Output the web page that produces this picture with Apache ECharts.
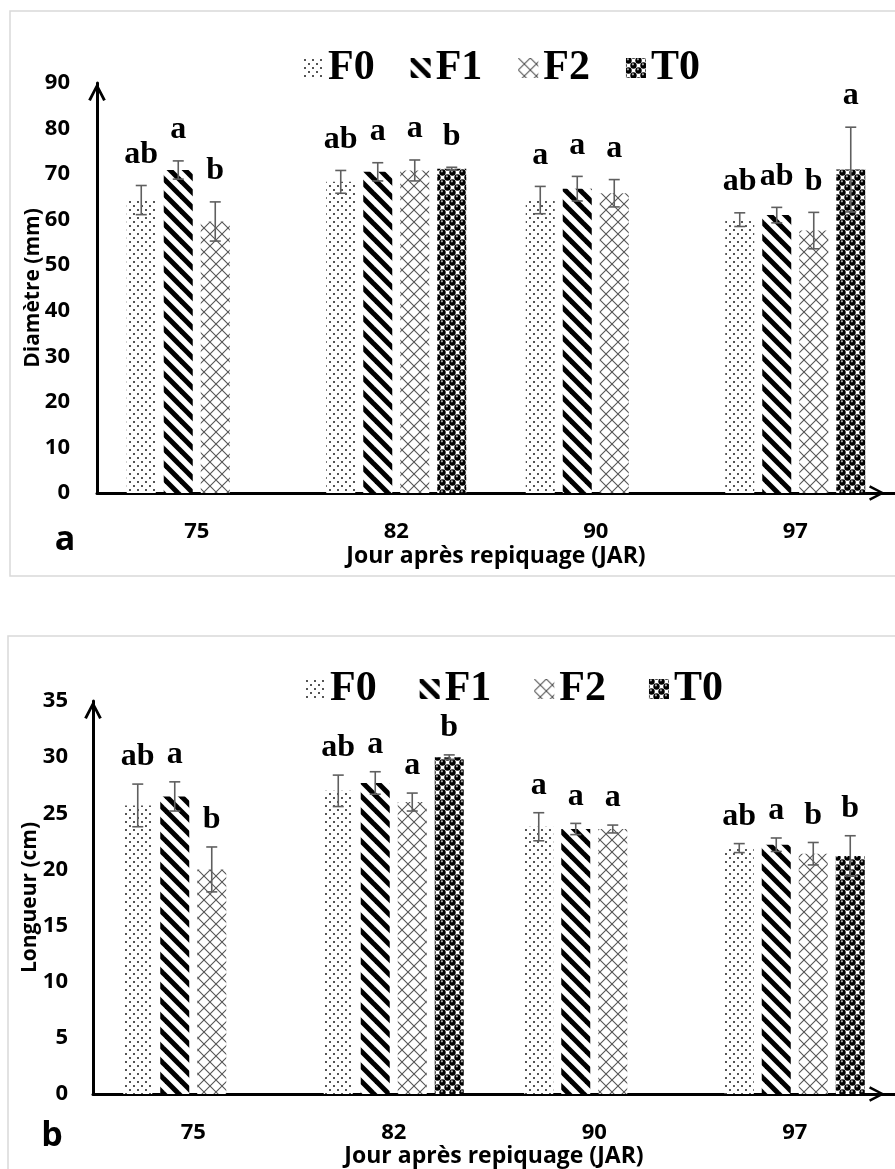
<!DOCTYPE html>
<html>
<head>
<meta charset="utf-8">
<script src="https://cdn.jsdelivr.net/npm/echarts@6/dist/echarts.min.js"></script>
<style>
  html, body { margin: 0; padding: 0; background: #ffffff; }
  #chart { width: 895px; height: 1169px; }
</style>
</head>
<body>
<div id="chart"></div>
<script>
// ---- Data -------------------------------------------------------------
const days = ['75', '82', '90', '97'];
const treatments = ['F0', 'F1', 'F2', 'T0'];

// Panel a: Diamètre (mm)
const diamTicks = [0, 10, 20, 30, 40, 50, 60, 70, 80, 90];
const diamF0 = [64.3, 68.3, 64.3, 60.0];
const diamF1 = [70.9, 70.5, 66.8, 61.0];
const diamF2 = [59.6, 70.8, 65.8, 57.6];
const diamT0 = [null, 71.2, null, 71.0];
const diamErrF0 = [3.2, 2.5, 3.0, 1.5];
const diamErrF1 = [2.0, 2.0, 2.7, 1.7];
const diamErrF2 = [4.3, 2.3, 3.0, 4.0];
const diamErrT0 = [null, 0.3, null, 9.3];
const diamLetF0 = ['ab', 'ab', 'a', 'ab'];
const diamLetF1 = ['a', 'a', 'a', 'ab'];
const diamLetF2 = ['b', 'a', 'a', 'b'];
const diamLetT0 = [null, 'b', null, 'a'];

// Panel b: Longueur (cm)
const longTicks = [0, 5, 10, 15, 20, 25, 30, 35];
const longF0 = [25.7, 27.0, 23.8, 21.9];
const longF1 = [26.5, 27.7, 23.6, 22.2];
const longF2 = [20.0, 26.0, 23.6, 21.4];
const longT0 = [null, 30.0, null, 21.2];
const longErrF0 = [1.9, 1.4, 1.25, 0.4];
const longErrF1 = [1.3, 1.0, 0.5, 0.6];
const longErrF2 = [2.0, 0.8, 0.35, 1.0];
const longErrT0 = [null, 0.2, null, 1.8];
const longLetF0 = ['ab', 'ab', 'a', 'ab'];
const longLetF1 = ['a', 'a', 'a', 'a'];
const longLetF2 = ['b', 'a', 'a', 'b'];
const longLetT0 = [null, 'b', null, 'b'];

// ---- Fill patterns ------------------------------------------------------
function tile(size, draw) {
  const c = document.createElement('canvas');
  c.width = size; c.height = size;
  const ctx = c.getContext('2d');
  ctx.fillStyle = '#ffffff';
  ctx.fillRect(0, 0, size, size);
  draw(ctx, size);
  return { image: c, repeat: 'repeat' };
}
const patterns = {
  F0: tile(8, (ctx) => {           // small dots
    ctx.fillStyle = '#555555';
    ctx.fillRect(1, 1, 2, 2);
    ctx.fillRect(5, 5, 2, 2);
  }),
  F1: tile(15, (ctx, s) => {       // wide downward diagonal stripes
    ctx.strokeStyle = '#000000';
    ctx.lineWidth = 5;
    for (let k = -1; k <= 1; k++) {
      ctx.beginPath();
      ctx.moveTo(k * s - 2, -2);
      ctx.lineTo(k * s + s + 2, s + 2);
      ctx.stroke();
    }
  }),
  F2: tile(12, (ctx, s) => {       // diagonal cross-hatch
    ctx.strokeStyle = '#555555';
    ctx.lineWidth = 1.1;
    for (let k = -1; k <= 1; k++) {
      ctx.beginPath();
      ctx.moveTo(k * s, 0); ctx.lineTo(k * s + s, s);
      ctx.moveTo(k * s + s, 0); ctx.lineTo(k * s, s);
      ctx.stroke();
    }
  }),
  T0: tile(10, (ctx) => {          // shaded spheres
    const ball = (x, y) => {
      ctx.fillStyle = '#000000';
      ctx.beginPath(); ctx.arc(x, y, 3.2, 0, Math.PI * 2); ctx.fill();
      ctx.fillStyle = '#a8a8a8';
      ctx.beginPath(); ctx.arc(x - 0.6, y - 1.2, 1.1, 0, Math.PI * 2); ctx.fill();
    };
    ball(2.5, 2.5); ball(7.5, 7.5);
    ball(12.5, 2.5); ball(-2.5, 7.5); ball(2.5, 12.5); ball(7.5, -2.5);
  })
};

// ---- Layout constants -------------------------------------------------
const BAR_W = 29;
const BAR_GAP = 8;
const chevron = 'path://M0,19 L10,0 L20,19 L17,20.5 L10,6.5 L3,20.5 Z';
const sansBold = { fontFamily: 'Open Sans', fontWeight: 'bold', color: '#000000' };

function barOffset(seriesIdx) {
  const n = treatments.length;
  const total = n * BAR_W + (n - 1) * BAR_GAP;
  return -total / 2 + seriesIdx * (BAR_W + BAR_GAP) + BAR_W / 2;
}

// Error bars + significance letters for one panel
function annotationSeries(panel, values, errors, letters, letterGap) {
  const items = [];
  const texts = [];
  values.forEach((vals, s) => {
    vals.forEach((v, c) => {
      if (v == null) return;
      items.push([c, s, v, errors[s][c] || 0]);
      texts.push(letters[s][c]);
    });
  });
  return {
    type: 'custom',
    xAxisIndex: panel, yAxisIndex: panel,
    silent: true, z: 5,
    data: items,
    encode: { x: 0, y: 2 },
    renderItem(params, api) {
      const cat = api.value(0), s = api.value(1), v = api.value(2), e = api.value(3);
      const mid = api.coord([cat, v]);
      const hi = api.coord([cat, v + e]);
      const lo = api.coord([cat, v - e]);
      const x = mid[0] + barOffset(s);
      const ls = { stroke: '#5f5f5f', lineWidth: 1.6 };
      const children = [];
      if (e > 0) {
        children.push(
          { type: 'line', shape: { x1: x, y1: hi[1], x2: x, y2: lo[1] }, style: ls },
          { type: 'line', shape: { x1: x - 5.5, y1: hi[1], x2: x + 5.5, y2: hi[1] }, style: ls },
          { type: 'line', shape: { x1: x - 5.5, y1: lo[1], x2: x + 5.5, y2: lo[1] }, style: ls }
        );
      }
      children.push({
        type: 'text',
        style: {
          text: texts[params.dataIndex], x: x, y: hi[1] - letterGap,
          align: 'center', verticalAlign: 'middle',
          font: 'bold 32px "Liberation Serif"', fill: '#000000'
        }
      });
      return { type: 'group', children };
    }
  };
}

function barSeries(panel, values) {
  return values.map((vals, s) => ({
    type: 'bar',
    name: treatments[s],
    xAxisIndex: panel, yAxisIndex: panel,
    barWidth: BAR_W,
    barGap: (BAR_GAP / BAR_W * 100) + '%',
    itemStyle: { color: patterns[treatments[s]] },
    data: vals,
    silent: true
  }));
}

function xAxisCfg(panel, nameGap) {
  return {
    type: 'category', gridIndex: panel, data: days,
    name: 'Jour après repiquage (JAR)', nameLocation: 'middle', nameGap: nameGap,
    nameMoveOverlap: false,
    nameTextStyle: Object.assign({ fontSize: 23 }, sansBold),
    axisLine: { lineStyle: { color: '#000000', width: 3 }, symbol: ['none', chevron], symbolSize: [20, 16], symbolOffset: [0, -18] },
    axisTick: { show: false },
    axisLabel: Object.assign({ fontSize: 22, margin: 28 }, sansBold)
  };
}

function yAxisCfg(panel, ticks, name, nameGap, labelMargin) {
  return {
    type: 'value', gridIndex: panel,
    min: ticks[0], max: ticks[ticks.length - 1], interval: ticks[1] - ticks[0],
    name: name, nameLocation: 'middle', nameGap: nameGap,
    nameMoveOverlap: false,
    nameTextStyle: Object.assign({ fontSize: 21 }, sansBold),
    axisLine: { show: true, lineStyle: { color: '#000000', width: 3 }, symbol: ['none', chevron], symbolSize: [22, 18], symbolOffset: [0, -9] },
    axisTick: { show: false },
    splitLine: { show: false },
    axisLabel: Object.assign({ fontSize: 22, margin: labelMargin }, sansBold)
  };
}

function legendCfg(top, left, gap) {
  return {
    data: treatments, top: top, left: left, itemGap: gap,
    itemWidth: 20, itemHeight: 20, icon: 'rect',
    selectedMode: false,
    textStyle: { fontFamily: 'Liberation Serif', fontWeight: 'bold', fontSize: 42, color: '#000000', padding: [0, 0, 0, 0] }
  };
}

const chart = echarts.init(document.getElementById('chart'), null, { renderer: 'canvas' });
chart.setOption({
  animation: false,
  backgroundColor: '#ffffff',
  grid: [
    { left: 97, top: 83, width: 808, height: 410 },
    { left: 93, top: 701, width: 812, height: 397 }
  ],
  legend: [legendCfg(42, 298, 36), legendCfg(663, 300, 43)],
  xAxis: [xAxisCfg(0, 52), xAxisCfg(1, 51)],
  yAxis: [
    yAxisCfg(0, diamTicks, 'Diamètre (mm)', 53, 27),
    yAxisCfg(1, longTicks, 'Longueur (cm)', 52, 25)
  ],
  graphic: [
    { type: 'rect', silent: true, z: -10, shape: { x: 10, y: 11, width: 900, height: 565 }, style: { fill: 'none', stroke: '#d9d9d9', lineWidth: 1.5 } },
    { type: 'rect', silent: true, z: -10, shape: { x: 8, y: 636, width: 900, height: 560 }, style: { fill: 'none', stroke: '#d9d9d9', lineWidth: 1.5 } },
    { type: 'text', silent: true, style: { text: 'a', x: 65, y: 540, align: 'center', verticalAlign: 'middle', font: 'bold 34px "Open Sans"', fill: '#000000' } },
    { type: 'text', silent: true, style: { text: 'b', x: 52, y: 1136, align: 'center', verticalAlign: 'middle', font: 'bold 34px "Open Sans"', fill: '#000000' } }
  ],
  series: [
    ...barSeries(0, [diamF0, diamF1, diamF2, diamT0]),
    annotationSeries(0, [diamF0, diamF1, diamF2, diamT0], [diamErrF0, diamErrF1, diamErrF2, diamErrT0], [diamLetF0, diamLetF1, diamLetF2, diamLetT0], 31),
    ...barSeries(1, [longF0, longF1, longF2, longT0]),
    annotationSeries(1, [longF0, longF1, longF2, longT0], [longErrF0, longErrF1, longErrF2, longErrT0], [longLetF0, longLetF1, longLetF2, longLetT0], 27)
  ]
});
</script>
</body>
</html>
